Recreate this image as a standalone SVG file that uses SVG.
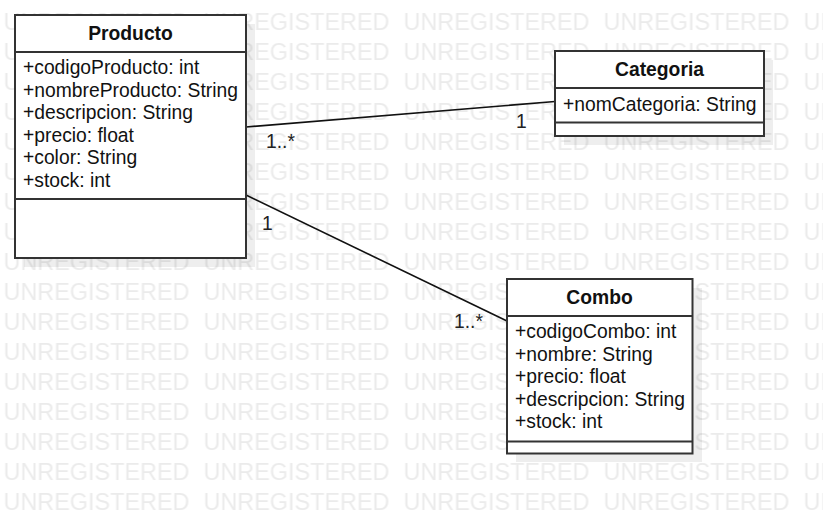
<svg xmlns="http://www.w3.org/2000/svg" width="823" height="514" viewBox="0 0 823 514">
<defs>
<style>
.wm{font-family:"Liberation Sans",Arial,sans-serif;font-size:23px;fill:#ebebeb}
.box{fill:#fff;stroke:#333;stroke-width:2}
.sh{fill:#000;opacity:0.065}
.sep{stroke:#333;stroke-width:2}
.title{font-family:"Liberation Sans",Arial,sans-serif;font-size:19.3px;font-weight:bold;fill:#111;text-anchor:middle}
.attr{font-family:"Liberation Sans",Arial,sans-serif;font-size:19.3px;fill:#111}
.lbl{font-family:"Liberation Sans",Arial,sans-serif;font-size:19.3px;fill:#222}
.edge{stroke:#111;stroke-width:1.6;fill:none}
</style>
<pattern id="wmp" x="3.5" y="0" width="200" height="30" patternUnits="userSpaceOnUse">
<text class="wm" x="0" y="30" textLength="186" lengthAdjust="spacingAndGlyphs">UNREGISTERED</text>
</pattern>
</defs>
<rect width="823" height="514" fill="#fff"/>
<g id="watermark">
<rect x="0" y="0" width="823" height="514" fill="url(#wmp)"/>
</g>
<g id="connectors">
<line class="edge" x1="246" y1="127" x2="555" y2="101.5"/>
<line class="edge" x1="246" y1="195" x2="507" y2="321"/>
<text class="lbl" x="266" y="148">1..*</text>
<text class="lbl" x="516" y="128">1</text>
<text class="lbl" x="262" y="230">1</text>
<text class="lbl" x="454" y="328">1..*</text>
</g>
<g id="producto">
<rect class="sh" x="24" y="24" width="231" height="243"/>
<rect class="box" x="15" y="15" width="231" height="243"/>
<line class="sep" x1="15" y1="52" x2="246" y2="52"/>
<line class="sep" x1="15" y1="199" x2="246" y2="199"/>
<text class="title" x="130.5" y="40">Producto</text>
<text class="attr" x="23" y="74">+codigoProducto: int</text>
<text class="attr" x="23" y="96.5">+nombreProducto: String</text>
<text class="attr" x="23" y="119">+descripcion: String</text>
<text class="attr" x="23" y="141.5">+precio: float</text>
<text class="attr" x="23" y="164">+color: String</text>
<text class="attr" x="23" y="186.5">+stock: int</text>
</g>
<g id="categoria">
<rect class="sh" x="564" y="60" width="209" height="85"/>
<rect class="box" x="555" y="51" width="209" height="85"/>
<line class="sep" x1="555" y1="88" x2="764" y2="88"/>
<line class="sep" x1="555" y1="122.5" x2="764" y2="122.5"/>
<text class="title" x="659.5" y="76">Categoria</text>
<text class="attr" x="563" y="110.5">+nomCategoria: String</text>
</g>
<g id="combo">
<rect class="sh" x="516" y="288" width="186" height="174"/>
<rect class="box" x="507" y="279" width="185.5" height="174.5"/>
<line class="sep" x1="507" y1="316" x2="692.5" y2="316"/>
<line class="sep" x1="507" y1="441.5" x2="692.5" y2="441.5"/>
<text class="title" x="599.5" y="303.5">Combo</text>
<text class="attr" x="515" y="338">+codigoCombo: int</text>
<text class="attr" x="515" y="360.5">+nombre: String</text>
<text class="attr" x="515" y="383">+precio: float</text>
<text class="attr" x="515" y="405.5">+descripcion: String</text>
<text class="attr" x="515" y="428">+stock: int</text>
</g>
</svg>
